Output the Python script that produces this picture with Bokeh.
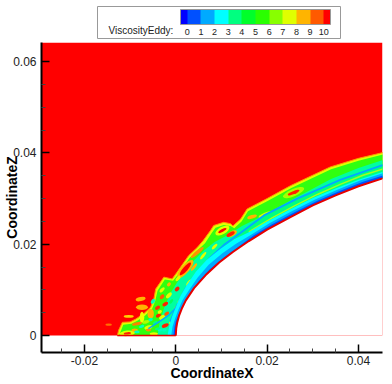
from bokeh.plotting import figure
from bokeh.embed import file_html
from bokeh.resources import INLINE
from bokeh.models import (FixedTicker, Range1d, LinearColorMapper, ColorBar)

# contour levels and legend colours
LEVELS = [0, 1, 2, 3, 4, 5, 6, 7, 8, 9, 10]
BAND_COLORS = ["#0000ff", "#0050ff", "#00aaff", "#00ffff", "#00ff80", "#00ff2a", "#2aff00",
               "#88ff00", "#e0ff00", "#ffb400", "#ff5a00", "#ff0000"]
X_TICKS = [-0.02, 0, 0.02, 0.04]
Z_TICKS = [0, 0.02, 0.04, 0.06]
X_MINOR = [-0.025, -0.015, -0.01, -0.005, 0.005, 0.01, 0.015, 0.025, 0.03, 0.035]
Z_MINOR = [0.005, 0.01, 0.015, 0.025, 0.03, 0.035, 0.045, 0.05, 0.055]

# outline of the body (wall)
WALL_X = [0, .0001, .0003, .0007, .0014, .0022, .0040, .0065, .0095, .0125, .0160, .0200, .0250, .0300, .0350, .0400, .0455]
WALL_Z = [0, .0016, .0028, .0043, .0061, .0077, .0104, .0132, .0160, .0183, .0207, .0232, .0259, .0285, .0307, .0327, .0345]

# contour band upper edges
E0_X = [-.0128, -.0125, -.0117, -.0100, -.0088, -.0070, -.0055, -.0048, -.0044, -.0026, -.0008, .0003, .0028, .0047, .0060, .0076, .0083, .0105, .0120, .0125, .0142, .0156, .0200, .0251, .0338, .0400, .0455]
E0_Z = [0, .0012, .0029, .0030, .0036, .0048, .0062, .0080, .0102, .0128, .0124, .0139, .0175, .0193, .0208, .0230, .0241, .0248, .0245, .0240, .0255, .0277, .0300, .0328, .0369, .0388, .0401]
E1_X = [-.0124, -.0115, -.0097, -.0085, -.0067, -.0052, -.0045, -.0040, -.0024, -.0006, .0006, .0030, .0050, .0064, .0079, .0087, .0105, .0120, .0128, .0144, .0158, .0203, .0253, .0340, .0400, .0455]
E1_Z = [0, .0024, .0026, .0032, .0044, .0058, .0076, .0098, .0123, .0120, .0135, .0170, .0189, .0202, .0225, .0236, .0242, .0240, .0235, .0250, .0272, .0296, .0323, .0364, .0383, .0397]
E2_X = [-.0040, -.0035, -.0025, -.0012, .0002, .0020, .0040, .0062, .0085, .0110, .0145, .0190, .0250, .0340, .0400, .0455]
E2_Z = [0, .0030, .0062, .0092, .0115, .0140, .0165, .0187, .0205, .0218, .0240, .0262, .0295, .0343, .0367, .0385]
S1_X = [-.0012, .0000, .0020, .0045, .0075, .0105, .0142, .0193, .0266, .0360, .0455]
S1_Z = [.0030, .0060, .0100, .0135, .0170, .0198, .0225, .0263, .0300, .0341, .0374]
S2_X = [.0160, .0210, .0260, .0310, .0360, .0410, .0455]
S2_Z = [.0227, .0257, .0284, .0309, .0331, .0351, .0365]
S3_X = [-.0060, -.0040, -.0016, .0002, .0017]
S3_Z = [.0015, .0028, .0044, .0062, .0083]
E4_X = [-.0018, -.0014, -.0008, .0, .0010, .0024, .0044, .0068, .0098, .0128, .0160, .0200, .0250, .0300, .0350, .0400, .0455]
E4_Z = [0, .0022, .0042, .0062, .0086, .0110, .0140, .0166, .0190, .0211, .0226, .0250, .0276, .0301, .0322, .0341, .0359]
E5_X = [-.0010, -.0007, -.0002, .0005, .0015, .0028, .0048, .0072, .0102, .0132, .0165, .0205, .0255, .0305, .0355, .0405, .0455]
E5_Z = [0, .0020, .0036, .0055, .0078, .0098, .0127, .0155, .0180, .0201, .0221, .0246, .0273, .0298, .0320, .0340, .0356]
E6_X = [-.0005, -.0003, .0000, .0008, .0018, .0030, .0050, .0075, .0105, .0135, .0170, .0210, .0260, .0310, .0360, .0410, .0455]
E6_Z = [0, .0018, .0032, .0050, .0072, .0090, .0119, .0146, .0171, .0193, .0219, .0243, .0270, .0295, .0317, .0337, .0351]

# blobs of high and mid viscosity inside the layer
BLOB_X = [.0258, .0258, .0196, .0167, .0123, .0102, .0102, .0120, .0047, .0021, .0021, .0003, -.0023, -.0040, -.0038, -.0077, -.0074, -.0103, -.0074, -.0055, -.0106, -.0106, -.0085, -.0023, -.0048, -.0147,
          -.0060, -.0030, .0010, .0030, .0070, -.0015, -.0065, -.0030,
          -.0090, -.0075, -.0060, -.0045, -.0035, -.0020, -.0010, .0000, -.0050, -.0030, -.0015, .0005, .0020, .0040, .0060, .0085, -.0055, -.0035, -.0085, -.0040, -.0025, -.0010, .0015, .0045, .0080, .0120]
BLOB_Z = [.0313, .0313, .0265, .0260, .0223, .0230, .0230, .0222, .0182, .0146, .0146, .0102, .0069, .0061, .0044, .0080, .0062, .0042, .0040, .0048, .0005, .0005, .0026, .0022, .0004, .0024,
          .0018, .0040, .0075, .0115, .0160, .0088, .0030, .0100,
          .0012, .0020, .0012, .0028, .0052, .0048, .0030, .0060, .0075, .0085, .0112, .0125, .0095, .0150, .0175, .0195, .0035, .0012, .0008, .0015, .0012, .0075, .0080, .0125, .0165, .0205]
BLOB_W = [.0050, .0028, .0032, .0022, .0024, .0034, .0020, .0020, .0036, .0050, .0036, .0012, .0014, .0012, .0012, .0022, .0026, .0022, .0010, .0014, .0034, .0016, .0022, .0016, .0018, .0014,
          .0018, .0014, .0016, .0018, .0024, .0016, .0016, .0014,
          .0014, .0012, .0012, .0012, .0010, .0012, .0012, .0009, .0012, .0012, .0010, .0014, .0012, .0020, .0020, .0016, .0010, .0010, .0012, .0012, .0010, .0012, .0012, .0016, .0020, .0020]
BLOB_H = [.0016, .0007, .0008, .0008, .0011, .0016, .0006, .0008, .0008, .0018, .0010, .0008, .0008, .0008, .0008, .0009, .0012, .0006, .0024, .0020, .0012, .0005, .0007, .0008, .0007, .0005,
          .0009, .0009, .0009, .0010, .0010, .0008, .0007, .0007,
          .0007, .0006, .0006, .0007, .0007, .0007, .0007, .0006, .0008, .0008, .0007, .0007, .0007, .0006, .0006, .0006, .0007, .0006, .0006, .0006, .0006, .0006, .0006, .0005, .0005, .0005]
BLOB_A = [.4, .4, .4, .3, .5, .5, .5, .5, .7, .85, .85, .7, .5, .5, .5, .2, 0, 0, 0, 0, .1, .1, .2, .4, 0, 0,
          .3, .6, .8, .9, .8, .8, .3, .8,
          0, .3, 0, .5, .6, .6, 1, 1, .9, .8, .8, .8, .9, .9, .9, .8, .3, 0, 0, .2, .2, .9, 1, .9, .8, .7]
BLOB_C = ["#a8ff00", "#ff2000", "#e0ff00", "#ffb400", "#ffb400", "#e0ff00", "#ff0000", "#ff2000", "#ff9000", "#ffb400", "#ff0000", "#ff2000", "#ff2000", "#ff3000", "#ff2000", "#ffb400", "#ffb400", "#ffd000", "#f0ff00", "#ffb400", "#e0ff00", "#ff2000", "#ff8000", "#ff2000", "#e0ff00", "#ff7000",
          "#e0ff00", "#e0ff00", "#e0ff00", "#e0ff00", "#a8ff00", "#e0ff00", "#a8ff00", "#e0ff00",
          "#ffb400", "#00ffc0", "#ff9000", "#00ff80", "#e0ff00", "#ff5a00", "#e0ff00", "#ffb400", "#00ffc0", "#ff5a00", "#ffb400", "#e0ff00", "#ff9000", "#ffb400", "#e0ff00", "#e0ff00", "#00ffc0", "#00ffc0", "#00ffc0", "#00ff80", "#00ffc0", "#00ff60", "#00ff60", "#a8ff00", "#a8ff00", "#e0ff00"]

X_RANGE = (-0.0294, 0.04526)
Z_RANGE = (-0.0037, 0.06416)

p = figure(output_backend="svg", toolbar_location=None, frame_width=341, frame_height=310,
           min_border_left=41, min_border_right=2, min_border_top=42, min_border_bottom=28,
           x_range=Range1d(*X_RANGE), y_range=Range1d(*Z_RANGE), background_fill_color="white",
           border_fill_color="white", outline_line_color=None)
p.grid.visible = False

def band(x, z, color, outline=None):
    xs = list(x) + WALL_X[::-1]
    zs = list(z) + WALL_Z[::-1]
    p.patch(xs, zs, fill_color=color, line_color=outline, line_width=1)

# red free stream above z = 0
p.patch([X_RANGE[0], X_RANGE[1], X_RANGE[1], X_RANGE[0]], [0, 0, Z_RANGE[1], Z_RANGE[1]],
        fill_color="#ff0000", line_color=None)
band(E0_X, E0_Z, "#e0ff00", "#ff9000")
band(E1_X, E1_Z, "#30ff10")
band(E2_X, E2_Z, "#00ffa0")
p.ellipse(BLOB_X, BLOB_Z, width=BLOB_W, height=BLOB_H, angle=BLOB_A, fill_color=BLOB_C, line_color=None)
band(S1_X, S1_Z, "#00ff80")
p.line(S1_X, S1_Z, line_color="#00aaff", line_width=2)
p.line(S2_X, S2_Z, line_color="#a0ff20", line_width=1.5)
p.line(S3_X, S3_Z, line_color="#00aaff", line_width=1.5)
band(E4_X, E4_Z, "#00ffff")
band(E5_X, E5_Z, "#00aaff")
band(E6_X, E6_Z, "#0050ff")

# body
p.patch(WALL_X + [X_RANGE[1], X_RANGE[1], 0], WALL_Z + [WALL_Z[-1], 0, 0], fill_color="white", line_color=None)
p.line(WALL_X, WALL_Z, line_color="#e60000", line_width=2)
p.line([E0_X[0], 0], [0, 0], line_color="#e60000", line_width=1.5)

for ax, ticks, minor in ((p.xaxis[0], X_TICKS, X_MINOR), (p.yaxis[0], Z_TICKS, Z_MINOR)):
    ax.ticker = FixedTicker(ticks=ticks, minor_ticks=minor)
    ax.major_label_overrides = {t: ("0" if t == 0 else f"{t:g}") for t in ticks}
    ax.major_tick_in = 8
    ax.major_tick_out = 0
    ax.minor_tick_in = 4
    ax.minor_tick_out = 0
    ax.axis_line_width = 2
    ax.axis_line_color = "black"
    ax.major_tick_line_color = "black"
    ax.major_tick_line_width = 1.5
    ax.minor_tick_line_color = "#444444"
    ax.major_label_text_font = "Liberation Sans"
    ax.major_label_text_font_size = "12px"
    ax.major_label_text_color = "#222222"
    ax.axis_label_text_font = "Liberation Sans"
    ax.axis_label_text_font_size = "14px"
    ax.axis_label_text_font_style = "bold"
    ax.axis_label_text_color = "black"

p.xaxis.axis_label = "CoordinateX"
p.yaxis.axis_label = "CoordinateZ"
p.xaxis.major_label_standoff = 3
p.xaxis.axis_label_standoff = -3
p.yaxis.major_label_standoff = 5
p.yaxis.axis_label_standoff = -10

# legend: a white bar as frame, a bar carrying the title, and the real colour bar
white = LinearColorMapper(palette=["#ffffff", "#ffffff"], low=0, high=1)
frame_bar = ColorBar(color_mapper=white, orientation="horizontal", width=243, height=32, location=(56, 314),
                     ticker=FixedTicker(ticks=[]), major_tick_line_color=None, minor_tick_line_color=None,
                     bar_line_color="#999999", padding=0, background_fill_alpha=0, border_line_color=None)
p.add_layout(frame_bar, "center")
title_bar = ColorBar(color_mapper=white, orientation="horizontal", width=66, height=1, location=(67, 315),
                     ticker=FixedTicker(ticks=[]), major_tick_line_color=None, minor_tick_line_color=None,
                     bar_line_color=None, padding=0, background_fill_alpha=0, border_line_color=None,
                     title="ViscosityEddy:", title_text_font="Liberation Sans", title_text_font_size="10px",
                     title_text_font_style="normal", title_text_color="#222222", title_standoff=1)
p.add_layout(title_bar, "center")
palette = [BAND_COLORS[0]] + [c for c in BAND_COLORS[1:-1] for _ in (0, 1)] + [BAND_COLORS[-1]]
mapper = LinearColorMapper(palette=palette, low=-0.5, high=10.5)
cb = ColorBar(color_mapper=mapper, orientation="horizontal", width=150, height=15,
              location=(139, 315), ticker=FixedTicker(ticks=LEVELS),
              major_tick_line_color=None, minor_tick_line_color=None, bar_line_color="#999999",
              major_label_text_font="Liberation Sans", major_label_text_font_size="9px",
              major_label_text_color="#222222", label_standoff=4, padding=0,
              background_fill_alpha=0, border_line_color=None)
p.add_layout(cb, "center")

open("out.html", "w").write(file_html(p, INLINE))
